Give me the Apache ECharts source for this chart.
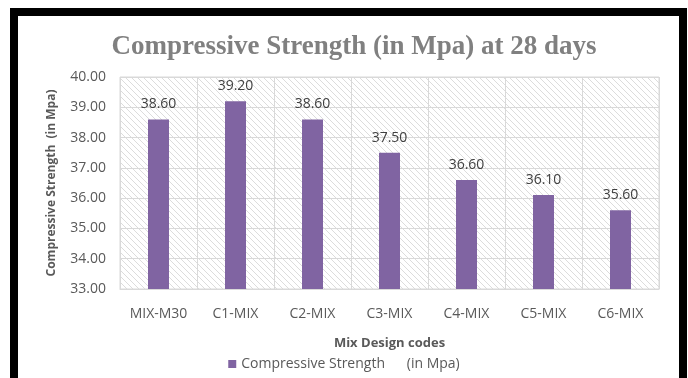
<!DOCTYPE html>
<html>
<head>
<meta charset="utf-8">
<script src="https://cdn.jsdelivr.net/npm/echarts@6/dist/echarts.min.js"></script>
<style>
  html, body { margin: 0; padding: 0; background: #fff; }
  #chart { width: 688px; height: 378px; }
</style>
</head>
<body>
<div id="chart"></div>
<script>
const categories = ["MIX-M30", "C1-MIX", "C2-MIX", "C3-MIX", "C4-MIX", "C5-MIX", "C6-MIX"];
const strength = [38.6, 39.2, 38.6, 37.5, 36.6, 36.1, 35.6];
const seriesName = "Compressive Strength      (in Mpa)";

// diagonal hatch for the plot area
function hatch() {
  const c = document.createElement("canvas");
  c.width = 6;
  c.height = 6;
  const ctx = c.getContext("2d");
  ctx.fillStyle = "#fff";
  ctx.fillRect(0, 0, 6, 6);
  ctx.strokeStyle = "#dcdcdc";
  ctx.lineWidth = 1;
  ctx.beginPath();
  ctx.moveTo(-1, -1); ctx.lineTo(7, 7);
  ctx.moveTo(-1, 5); ctx.lineTo(1, 7);
  ctx.moveTo(5, -1); ctx.lineTo(7, 1);
  ctx.stroke();
  return c;
}

const myChart = echarts.init(document.getElementById("chart"));
myChart.setOption({
  animation: false,
  title: {
    text: "Compressive Strength (in Mpa) at 28 days",
    left: 349,
    top: 29,
    textAlign: "center",
    textStyle: {
      fontFamily: "Liberation Serif",
      fontWeight: "bold",
      fontSize: 27,
      color: "#808080"
    }
  },
  graphic: [
    {
      type: "rect",
      shape: { x: 14, y: 12, width: 669, height: 420 },
      style: { fill: "none", stroke: "#000", lineWidth: 8 },
      silent: true
    }
  ],
  legend: {
    bottom: 2,
    left: "center",
    itemWidth: 8,
    itemHeight: 8,
    itemGap: 4,
    icon: "rect",
    textStyle: { fontFamily: "Open Sans", fontSize: 14, color: "#595959" }
  },
  grid: {
    left: 120,
    right: 29,
    top: 77,
    bottom: 89,
    show: true,
    backgroundColor: { image: hatch(), repeat: "repeat" },
    borderColor: "#d9d9d9",
    borderWidth: 1
  },
  xAxis: {
    type: "category",
    data: categories,
    name: "Mix Design codes",
    nameLocation: "middle",
    nameGap: 48,
    nameTextStyle: { fontFamily: "Open Sans", fontWeight: "bold", fontSize: 13, color: "#595959" },
    axisLine: { lineStyle: { color: "#d9d9d9" } },
    axisTick: { show: false },
    splitLine: { show: true, lineStyle: { color: "#d9d9d9", width: 1 } },
    axisLabel: { margin: 18, fontFamily: "Open Sans", fontSize: 14, color: "#595959" }
  },
  yAxis: {
    type: "value",
    min: 33,
    max: 40,
    interval: 1,
    name: "Compressive Strength  (in Mpa)",
    nameLocation: "middle",
    nameGap: 62,
    nameTextStyle: { fontFamily: "Open Sans", fontWeight: "bold", fontSize: 12, color: "#595959" },
    axisLine: { show: false },
    axisTick: { show: false },
    splitLine: { lineStyle: { color: "#d9d9d9", width: 1 } },
    axisLabel: {
      margin: 14,
      fontFamily: "Open Sans",
      fontSize: 14,
      color: "#595959",
      formatter: v => v.toFixed(2)
    }
  },
  series: [
    {
      name: seriesName,
      type: "bar",
      data: strength,
      barWidth: 21,
      itemStyle: { color: "#8064A2" },
      label: {
        show: true,
        position: "top",
        distance: 8,
        fontFamily: "Open Sans",
        fontSize: 14,
        color: "#404040",
        formatter: p => p.value.toFixed(2)
      }
    }
  ]
});
</script>
</body>
</html>
